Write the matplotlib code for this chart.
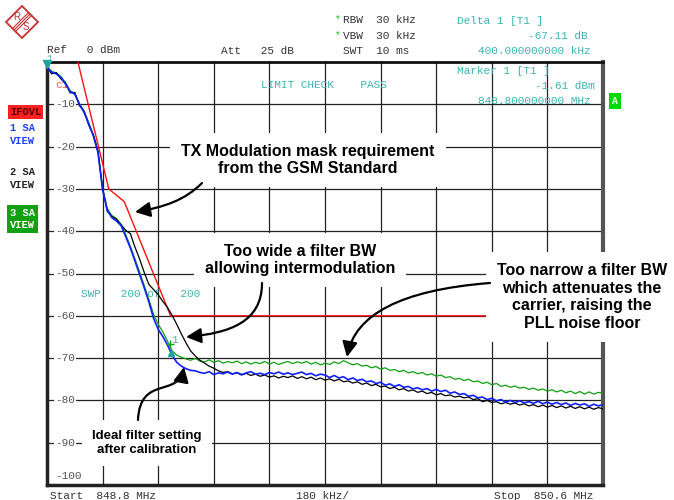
import numpy as np
import matplotlib.pyplot as plt
from matplotlib.patches import FancyArrowPatch, Polygon
from matplotlib.path import Path
from matplotlib.lines import Line2D
from matplotlib.transforms import Affine2D

W, H = 674, 500

# sweep settings of the analyzer
f_start = 848.8
f_stop = 850.6
n_points = 121
freq = np.linspace(f_start, f_stop, n_points)

# trace 1 (blue) - ideal filter after calibration
trace1 = [-1.3, -2.4, -2.8, -3.7, -5.2, -7.0, -7.6, -10.0, -11.9, -14.6,
          -17.5, -21.4, -30.2, -35.0, -36.8, -37.6, -38.7,
          -41.3, -44.0, -47.1, -50.3, -53.4, -56.8, -60.6, -63.2, -64.9,
          -66.9, -69.3, -71.0, -71.9, -72.5, -72.9, -73.0, -73.4,
          -73.6, -73.2, -73.9, -73.5, -73.7, -73.3, -73.8, -73.4, -73.9,
          -73.5, -73.2, -73.8, -73.6, -73.9, -73.4, -73.7, -73.3, -73.8,
          -73.5, -73.9, -73.6,
          -73.3, -73.9, -73.6, -74.2, -73.8,
          -74.0, -74.6, -74.1, -74.7, -74.4,
          -75.1, -74.7, -75.3, -75.0, -75.6,
          -75.4, -76.0, -75.7, -76.4, -76.1,
          -76.7, -76.3, -76.9, -76.7, -77.3,
          -77.0, -77.5, -77.2, -77.8, -77.4,
          -77.9, -77.6, -78.3, -78.0, -78.6,
          -78.4, -79.0, -78.8, -79.4, -79.2,
          -79.8, -79.5, -80.1, -79.8, -80.4,
          -80.0, -80.5, -80.1, -80.6, -80.3,
          -80.7, -80.2, -80.8, -80.4, -80.9,
          -80.5, -81.0, -80.6, -81.2, -80.7,
          -81.1, -80.8, -81.4, -80.9, -81.3,
          -81.0]

# trace 2 (black) - filter too wide
trace2 = [-1.0, -2.8, -2.5, -4.0, -5.0, -7.3, -7.2, -10.3, -11.6, -14.9,
          -17.2, -21.0, -29.8, -35.3, -36.5, -37.2, -38.5,
          -39.8, -40.6, -43.8, -46.6, -49.8, -52.6, -53.8, -55.0, -56.6,
          -58.0, -59.9, -62.0, -64.3, -66.4, -68.3, -69.5, -70.5, -71.2,
          -71.9, -72.4, -73.0, -73.4, -73.2, -73.7,
          -73.5, -74.0, -73.6, -74.1, -73.8, -74.3, -74.0, -74.5, -74.2,
          -74.7, -74.3, -74.6, -74.2, -74.8,
          -74.4, -74.9, -74.5, -75.1, -74.7,
          -75.2, -74.9, -75.4, -75.0, -75.6,
          -75.4, -75.9, -75.6, -76.2, -75.9,
          -76.5, -76.2, -76.8, -76.6, -77.2,
          -76.9, -77.5, -77.2, -77.8, -77.5,
          -78.1, -77.8, -78.4, -78.1, -78.7,
          -78.4, -78.9, -78.7, -79.2, -79.0,
          -79.4, -79.2, -79.8, -79.6, -80.3,
          -80.0, -80.5, -80.3, -80.8, -80.5,
          -80.9, -80.6, -81.1, -80.8, -81.3,
          -81.0, -81.5, -81.1, -81.6, -81.2,
          -81.7, -81.3, -81.8, -81.4, -81.9,
          -81.5, -82.0, -81.6, -82.1, -81.7,
          -82.0]

# trace 3 (green) - filter too narrow
trace3 = [-1.1, -2.2, -2.6, -3.4, -4.9, -6.8, -7.4, -9.8, -11.7, -14.3,
          -17.3, -21.2, -30.0, -34.6, -36.3, -37.0, -38.4, -40.8, -43.6,
          -46.6, -49.7, -52.9, -56.2,
          -59.6, -62.0, -63.8, -66.0, -68.3, -69.3, -69.8, -70.2,
          -70.5, -70.1, -70.7, -70.9, -70.4, -71.0, -70.6, -71.2, -70.8,
          -71.1, -70.7, -71.3, -70.9, -71.4, -71.0, -71.3, -70.8, -71.4,
          -71.0, -71.5, -71.1, -70.8, -71.3, -70.9,
          -71.2, -70.8, -71.4, -71.0, -71.6,
          -71.2, -71.5, -70.9, -71.3, -70.6,
          -71.1, -71.6, -71.3, -71.9, -71.7,
          -72.3, -72.0, -72.6, -72.3, -72.9,
          -72.7, -73.2, -72.9, -73.5, -73.2,
          -73.7, -73.4, -74.0, -73.7, -74.3,
          -74.0, -74.6, -74.4, -75.0, -74.8,
          -75.3, -75.0, -75.6, -75.4, -76.0,
          -75.7, -76.3, -76.0, -76.7, -76.4,
          -76.9, -76.6, -77.1, -76.9, -77.4,
          -77.1, -77.6, -77.3, -77.8, -77.5,
          -78.0, -77.6, -78.2, -77.8, -78.4,
          -77.9, -78.5, -78.0, -78.5, -78.1,
          -78.3]

# GSM modulation mask (limit line)
mask_freq = [848.9, 849.0, 849.05, 849.2, 850.6]
mask_level = [0, -30, -33, -60, -60]

# markers
marker_freq = 848.8
marker_level = -1.61
delta_freq = 849.2
delta_level = -1.61 - 67.11

y_labels = [-10, -20, -30, -40, -50, -60, -70, -80, -90, -100]

MONO = 'Liberation Mono'
SANS = 'Liberation Sans'
TEAL = '#3fb3b3'

fig = plt.figure(figsize=(W / 100, H / 100), dpi=100)
fig.patch.set_facecolor('white')

ax = fig.add_axes([47 / W, 1 - 485 / H, (603 - 47) / W, (485 - 62) / H])
ax.set_xlim(f_start, f_stop)
ax.set_ylim(-100, 0)
ax.set_xticks(f_start + 0.18 * np.arange(11))
ax.set_yticks(range(-90, 0, 10))
ax.grid(True, color='#222222', lw=0.9)
ax.tick_params(length=0, labelbottom=False, labelleft=False)
for side, lw, c in [('top', 2, '#111111'), ('left', 2.5, '#222222'),
                    ('bottom', 2.5, '#222222'), ('right', 3, '#555555')]:
    ax.spines[side].set_linewidth(lw)
    ax.spines[side].set_color(c)

for v in y_labels:
    yy = v if v > -100 else -97.9
    ax.text(0.0145, yy, f"{v}", transform=ax.get_yaxis_transform(),
            va='center', ha='left', family=MONO, fontsize=8, color='#555555',
            bbox=dict(fc='white', ec='none', pad=0.5), zorder=2.5)

ax.plot(mask_freq, mask_level, color='#ff1010', lw=1.0, zorder=3)
ax.plot(freq, trace3, color='#10a010', lw=0.9, zorder=4)
ax.plot(freq, trace2, color='black', lw=0.9, zorder=5)
ax.plot(freq, trace1, color='#1020ff', lw=1.2, zorder=6)

ax.plot([marker_freq], [-0.4], marker='v', color='#20a0a0', ms=6, clip_on=False, zorder=7)
ax.plot([delta_freq], [delta_level], marker='^', color='#20a0a0', ms=5, zorder=7)
ax.plot([delta_freq - 0.003], [-66.6], marker='+', color='#10a010', ms=6, zorder=7)
ax.text(delta_freq + 0.002, -65.8, "1", color=TEAL, family=MONO, fontsize=8,
        ha='left', va='center', zorder=7)

ax.text(0.0145, -5.4, "c1", transform=ax.get_yaxis_transform(), color='#ff6060',
        family=MONO, fontsize=8, va='center')
ax.text(848.8 + 0.18 * 3.85, -5.4, "LIMIT CHECK    PASS", color=TEAL,
        family=MONO, fontsize=8, va='center')
ax.text(848.8 + 0.18 * 0.61, -54.9, "SWP   200 of   200", color=TEAL,
        family=MONO, fontsize=8, va='center')


def px(x, y):
    return x / W, 1 - y / H


def ftext(x, y, s, **kw):
    kw.setdefault('family', MONO)
    kw.setdefault('fontsize', 8)
    kw.setdefault('color', '#333333')
    kw.setdefault('va', 'center')
    fig.text(*px(x, y), s, **kw)


# header
ftext(47, 50, "Ref   0 dBm")
ftext(221, 51, "Att   25 dB")
ftext(335, 19, "*", color='#10c010', fontsize=7)
ftext(335, 35, "*", color='#10c010', fontsize=7)
ftext(343, 20, "RBW  30 kHz")
ftext(343, 36, "VBW  30 kHz")
ftext(343, 51, "SWT  10 ms")
ftext(457, 21, "Delta 1 [T1 ]", color=TEAL)
ftext(528, 36, "-67.11 dB", color=TEAL)
ftext(478, 51, "400.000000000 kHz", color=TEAL)
ftext(457, 71, "Marker 1 [T1 ]", color=TEAL)
ftext(535, 86, "-1.61 dBm", color=TEAL)
ftext(478, 101, "848.800000000 MHz", color=TEAL)
ftext(46, 59, "1", color=TEAL, fontsize=7)
ftext(615, 101, "A", color='white', ha='center', fontsize=7, weight='bold',
      bbox=dict(boxstyle='square,pad=0.35', fc='#00d800', ec='none'))

# footer
ftext(50, 496, "Start  848.8 MHz")
ftext(296, 496, "180 kHz/")
ftext(494, 496, "Stop  850.6 MHz")

# left status labels
ftext(10, 112, "IFOVL", color='#550000', fontsize=7.5, weight='bold',
      bbox=dict(boxstyle='square,pad=0.2', fc='#ff2020', ec='none'))
ftext(10, 128, "1 SA", color='#2040ff', fontsize=7.5, weight='bold')
ftext(10, 141, "VIEW", color='#2040ff', fontsize=7.5, weight='bold')
ftext(10, 172, "2 SA", color='#222222', fontsize=7.5, weight='bold')
ftext(10, 185, "VIEW", color='#222222', fontsize=7.5, weight='bold')
ftext(10, 219, "3 SA\nVIEW", color='white', fontsize=7.5, weight='bold',
      linespacing=1.25, bbox=dict(boxstyle='square,pad=0.25', fc='#10a010', ec='none'))

# annotations
box = dict(boxstyle='square,pad=0.7', fc='white', ec='none')
ann = dict(family=SANS, fontsize=11.5, weight='bold', color='black',
           ha='center', va='center', linespacing=1.2, bbox=box, zorder=8)
fig.text(*px(308, 160), "TX Modulation mask requirement\nfrom the GSM Standard", **ann)
fig.text(*px(300, 260), "Too wide a filter BW\nallowing intermodulation", **ann)
fig.text(*px(582, 297), "Too narrow a filter BW\nwhich attenuates the\ncarrier, raising the\nPLL noise floor", **ann)
fig.text(*px(147, 443), "Ideal filter setting\nafter calibration",
         **dict(ann, fontsize=9.5, linespacing=1.15,
                bbox=dict(boxstyle='square,pad=0.8', fc='white', ec='none')))

pxT = Affine2D().scale(1 / W, -1 / H).translate(0, 1) + fig.transFigure


def curved_arrow(pts):
    path = Path(pts, [Path.MOVETO, Path.CURVE4, Path.CURVE4, Path.CURVE4])
    fig.add_artist(FancyArrowPatch(path=path, transform=pxT,
                                   arrowstyle='-|>,head_length=0.7,head_width=0.35',
                                   mutation_scale=13, lw=1.6, color='black', zorder=9))


curved_arrow([(202, 183), (185, 200), (165, 207), (135, 212)])
curved_arrow([(262, 283), (262, 322), (230, 333), (186, 337)])
curved_arrow([(490, 283), (400, 290), (355, 315), (347, 357)])
curved_arrow([(138, 420), (140, 375), (178, 398), (184, 367)])

# Rohde & Schwarz logo
logo_red = '#c83030'
fig.add_artist(Polygon([(22, 6), (38, 22), (22, 38), (6, 22)], closed=True,
                       transform=pxT, fill=False, ec=logo_red, lw=1.3))
for d in (-1.5, 0, 1.5):
    fig.add_artist(Line2D([14 + d, 30 + d], [30 + d, 14 + d], transform=pxT,
                          color=logo_red, lw=0.8))
fig.text(*px(17, 17), "R", color=logo_red, family=SANS, fontsize=7, ha='center', va='center')
fig.text(*px(26, 27), "S", color=logo_red, family=SANS, fontsize=7, ha='center', va='center')

fig.savefig('out.png', dpi=100)
